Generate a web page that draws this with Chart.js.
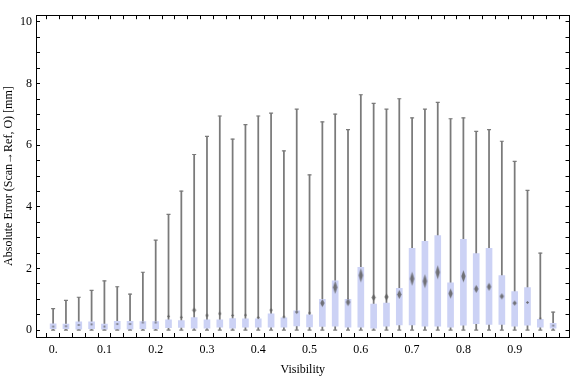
<!DOCTYPE html>
<html>
<head>
<meta charset="utf-8">
<script src="https://cdn.jsdelivr.net/npm/chart.js@4.4.1/dist/chart.umd.min.js"></script>
<style>
  html, body { margin: 0; padding: 0; background: #fff; }
  #wrap { width: 576px; height: 377px; }
</style>
</head>
<body>
<div id="wrap"><canvas id="chart" width="576" height="377"></canvas></div>
<script>
// Visibility bins (box centres)
const visibility = [
  0, 0.025, 0.05, 0.075, 0.1, 0.125, 0.15, 0.175, 0.2, 0.225,
  0.25, 0.275, 0.3, 0.325, 0.35, 0.375, 0.4, 0.425, 0.45, 0.475,
  0.5, 0.525, 0.55, 0.575, 0.6, 0.625, 0.65, 0.675, 0.7, 0.725,
  0.75, 0.775, 0.8, 0.825, 0.85, 0.875, 0.9, 0.925, 0.95, 0.975
];
const whiskerLow = [
  0, 0, 0, 0, 0, 0, 0, 0, 0, 0,
  0, 0, 0, 0, 0, 0, 0, 0, 0, 0,
  0, 0, 0, 0, 0, 0, 0, 0, 0, 0,
  0, 0, 0, 0, 0, 0, 0, 0, 0, 0
];
const quartile1 = [
  0.05, 0.05, 0.03, 0.05, 0.03, 0.03, 0.03, 0.05, 0.05, 0.08,
  0.09, 0.07, 0.07, 0.10, 0.07, 0.10, 0.10, 0.10, 0.10, 0.14,
  0.11, 0.12, 0.13, 0.10, 0.10, 0.07, 0.13, 0.17, 0.17, 0.13,
  0.13, 0.10, 0.16, 0.21, 0.19, 0.19, 0.13, 0.16, 0.10, 0.07
];
const quartile3 = [
  0.21, 0.20, 0.27, 0.27, 0.20, 0.29, 0.29, 0.28, 0.28, 0.34,
  0.31, 0.41, 0.34, 0.34, 0.38, 0.37, 0.37, 0.53, 0.40, 0.63,
  0.50, 1.00, 1.60, 1.00, 2.04, 0.85, 0.88, 1.36, 2.66, 2.88,
  3.07, 1.54, 2.95, 2.49, 2.66, 1.77, 1.25, 1.38, 0.35, 0.22
];
const whiskerHigh = [
  0.70, 0.97, 1.07, 1.29, 1.60, 1.41, 1.17, 1.88, 2.92, 3.76,
  4.51, 5.70, 6.29, 6.95, 6.20, 6.67, 6.95, 7.04, 5.82, 7.17,
  5.04, 6.76, 7.01, 6.51, 7.64, 7.36, 7.17, 7.51, 6.89, 7.17,
  7.39, 6.86, 6.89, 6.45, 6.51, 6.13, 5.48, 4.54, 2.50, 0.59
];
const meanError = [
  0.12, 0.13, 0.17, 0.19, 0.12, 0.20, 0.20, 0.25, 0.25, 0.45,
  0.42, 0.65, 0.48, 0.54, 0.48, 0.49, 0.41, 0.65, 0.43, 0.59,
  0.56, 0.88, 1.39, 0.91, 1.78, 1.06, 1.08, 1.16, 1.67, 1.59,
  1.88, 1.19, 1.75, 1.34, 1.41, 1.10, 0.88, 0.90, 0.38, 0.15
];
const meanSpread = [
  0.01, 0.01, 0.02, 0.02, 0.02, 0.03, 0.03, 0.03, 0.04, 0.05,
  0.05, 0.08, 0.06, 0.06, 0.05, 0.05, 0.05, 0.07, 0.05, 0.07,
  0.05, 0.13, 0.21, 0.13, 0.22, 0.12, 0.12, 0.15, 0.22, 0.22,
  0.22, 0.16, 0.19, 0.13, 0.13, 0.10, 0.08, 0.05, 0.04, 0.02
];

const xLabels = ['0.', '0.1', '0.2', '0.3', '0.4', '0.5', '0.6', '0.7', '0.8', '0.9'];
const yLabels = [0, 2, 4, 6, 8, 10];

const grey = 'rgb(122,122,122)';
const boxBlue = 'rgb(204,210,245)';

Chart.defaults.font.family = '"Liberation Serif", "DejaVu Serif", serif';
Chart.defaults.font.size = 12;
Chart.defaults.color = '#000';

// blurred diamond marker, height follows the mean's spread
const diamondCache = {};
function diamondStyle(context) {
  const i = context.dataIndex;
  const y = context.chart.scales.y;
  if (i === undefined || !y) return 'circle';
  const half = Math.max(1, Math.abs(y.getPixelForValue(meanError[i] + meanSpread[i]) - y.getPixelForValue(meanError[i])));
  const key = Math.round(half * 2);
  if (!diamondCache[key]) {
    const c = document.createElement('canvas');
    c.width = 9;
    c.height = key + 4;
    const g = c.getContext('2d');
    g.filter = 'blur(0.5px)';
    g.fillStyle = 'rgba(95,95,95,0.85)';
    const w = key < 5 ? 1.6 : 2.2;
    g.beginPath();
    g.moveTo(4.5, 2);
    g.lineTo(4.5 + w, c.height / 2);
    g.lineTo(4.5, c.height - 2);
    g.lineTo(4.5 - w, c.height / 2);
    g.closePath();
    g.fill();
    diamondCache[key] = c;
  }
  return diamondCache[key];
}

function dropNegative(scale) {
  scale.ticks = scale.ticks.filter(t => t.value > -1e-9);
}

function xTickLabel(value) {
  const k = Math.round(value * 40);
  if (k % 4 !== 0) return '';
  return xLabels[k / 4] !== undefined ? xLabels[k / 4] : '';
}

function yTickLabel(value) {
  const v = Math.round(value * 2) / 2;
  return yLabels.includes(v) ? String(v) : '';
}

const frameGrid = { drawOnChartArea: false, drawTicks: true, tickLength: -4, color: '#000', lineWidth: 1 };
const frameBorder = { display: true, color: '#000', width: 1 };
const xMin = -0.0334, xMax = 1.007;
const yMin = -0.22, yMax = 10.22;

new Chart(document.getElementById('chart'), {
  type: 'bar',
  data: {
    datasets: [
      {
        type: 'scatter',
        label: 'mean',
        data: visibility.map((v, i) => ({ x: v, y: meanError[i] })),
        pointStyle: diamondStyle,
        pointRadius: 3,
        backgroundColor: grey,
        borderWidth: 0,
        order: 0
      },
      {
        type: 'scatter',
        label: 'caps',
        data: visibility.map((v, i) => ({ x: v, y: whiskerHigh[i] }))
          .concat(visibility.map((v, i) => ({ x: v, y: whiskerLow[i] }))),
        pointStyle: 'line',
        pointRadius: 2,
        borderColor: grey,
        borderWidth: 1.2,
        order: 1
      },
      {
        label: 'box',
        data: visibility.map((v, i) => ({ x: v, y: [quartile1[i], quartile3[i]] })),
        backgroundColor: boxBlue,
        barThickness: 6,
        grouped: false,
        borderWidth: 0,
        order: 2
      },
      {
        label: 'whisker',
        data: visibility.map((v, i) => ({ x: v, y: [whiskerLow[i], whiskerHigh[i]] })),
        backgroundColor: grey,
        barThickness: 1.1,
        grouped: false,
        borderWidth: 0,
        order: 3
      }
    ]
  },
  options: {
    responsive: false,
    animation: false,
    layout: { padding: { top: 4, right: 1, left: 0, bottom: 0 } },
    plugins: { legend: { display: false }, tooltip: { enabled: false } },
    scales: {
      x: {
        type: 'linear', position: 'bottom', min: xMin, max: xMax, offset: false,
        grid: frameGrid, border: frameBorder,
        ticks: { stepSize: 0.025, includeBounds: false, autoSkip: false, maxRotation: 0, padding: 10, callback: xTickLabel },
        title: { display: true, text: 'Visibility', padding: { top: 0, bottom: 0 } },
        afterBuildTicks: dropNegative,
        afterFit: s => { s.height = 40; }
      },
      x2: {
        type: 'linear', position: 'top', min: xMin, max: xMax, offset: false,
        grid: frameGrid, border: frameBorder,
        ticks: { display: false, stepSize: 0.025, includeBounds: false, autoSkip: false },
        afterBuildTicks: dropNegative,
        afterFit: s => { s.height = 0; }
      },
      y: {
        type: 'linear', position: 'left', min: yMin, max: yMax,
        grid: frameGrid, border: frameBorder,
        ticks: { stepSize: 0.5, includeBounds: false, autoSkip: false, padding: 8, callback: yTickLabel },
        title: { display: true, text: 'Absolute Error (Scan\u2192Ref, O) [mm]', padding: { top: 2, bottom: 0 } },
        afterFit: s => { s.width = 36; }
      },
      y2: {
        type: 'linear', position: 'right', min: yMin, max: yMax,
        grid: frameGrid, border: frameBorder,
        ticks: { display: false, stepSize: 0.5, includeBounds: false, autoSkip: false },
        afterFit: s => { s.width = 0; }
      }
    }
  }
});
</script>
</body>
</html>
